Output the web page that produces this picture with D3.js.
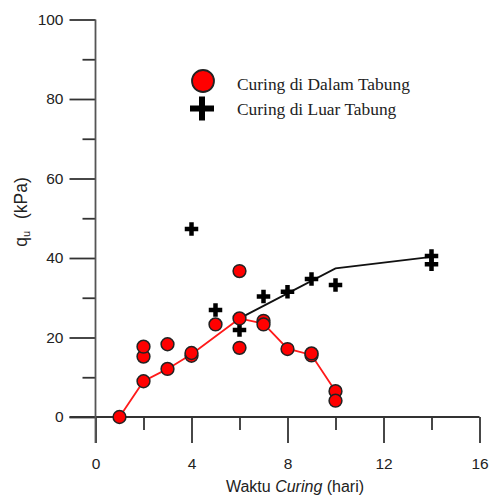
<!DOCTYPE html>
<html><head><meta charset="utf-8">
<script src="https://cdn.jsdelivr.net/npm/d3@7"></script>
<style>body{margin:0;background:#fff}svg{display:block}</style>
</head><body>
<script>
// Data
const dalamX = [1, 2, 2, 2, 3, 3, 4, 4, 5, 6, 6, 6, 7, 7, 8, 9, 9, 10, 10];
const dalamY = [0, 9, 15.2, 17.7, 12.1, 18.3, 15.4, 16.1, 23.3, 36.7, 24.8, 17.4, 24.2, 23.3, 17.1, 15.5, 16.0, 6.5, 4.1];
const luarX = [4, 5, 6, 7, 8, 9, 10, 14, 14];
const luarY = [47.3, 26.9, 21.9, 30.3, 31.5, 34.7, 33.2, 40.5, 38.4];
const dalamLineX = [1, 2, 3, 4, 6, 7, 8, 9, 10];
const dalamLineY = [0, 9, 12.1, 15.8, 24.8, 23.5, 17.2, 15.6, 6.5];
const luarLineX = [6, 10, 14];
const luarLineY = [24.8, 37.4, 40.3];
const xMajorTicks = [0, 4, 8, 12, 16];
const xMinorTicks = [2, 6, 10, 14];
const yMajorTicks = [0, 20, 40, 60, 80, 100];
const yMinorTicks = [10, 30, 50, 70, 90];
const legendLabels = ["Curing di Dalam Tabung", "Curing di Luar Tabung"];

const W = 494, H = 497;
const svg = d3.select("body").append("svg").attr("width", W).attr("height", H);
const x = d3.scaleLinear().domain([0, 16]).range([95.5, 479.5]);
const y = d3.scaleLinear().domain([0, 100]).range([417, 19.5]);
const txt = "#222";
const sans = "'Liberation Sans', Arial, sans-serif";
const serif = "'Liberation Serif', 'Times New Roman', serif";

// Axes
const axisCol = "#333";
const yAxMaj = d3.axisLeft(y).tickValues(yMajorTicks).tickSize(26).tickPadding(6).tickFormat(d3.format("d"));
const gy = svg.append("g").attr("transform", `translate(${x(0)},0)`).call(yAxMaj);
gy.select(".domain").remove();
gy.selectAll(".tick line").attr("stroke", axisCol).attr("stroke-width", 1.8);
gy.selectAll(".tick text").attr("font-family", sans).attr("font-size", 15.5).attr("fill", txt);
const yAxMin = d3.axisLeft(y).tickValues(yMinorTicks).tickSize(13).tickFormat("");
const gym = svg.append("g").attr("transform", `translate(${x(0)},0)`).call(yAxMin);
gym.select(".domain").remove();
gym.selectAll(".tick line").attr("stroke", axisCol).attr("stroke-width", 1.8);

const xAxMaj = d3.axisBottom(x).tickValues(xMajorTicks).tickSize(26).tickPadding(15).tickFormat(d3.format("d"));
const gx = svg.append("g").attr("transform", `translate(0,${y(0)})`).call(xAxMaj);
gx.select(".domain").remove();
gx.selectAll(".tick line").attr("stroke", axisCol).attr("stroke-width", 1.8);
gx.selectAll(".tick text").attr("font-family", sans).attr("font-size", 15.5).attr("fill", txt);
const xAxMin = d3.axisBottom(x).tickValues(xMinorTicks).tickSize(13).tickFormat("");
const gxm = svg.append("g").attr("transform", `translate(0,${y(0)})`).call(xAxMin);
gxm.select(".domain").remove();
gxm.selectAll(".tick line").attr("stroke", axisCol).attr("stroke-width", 1.8);

svg.append("line").attr("x1", x(0) - 26).attr("x2", x(16)).attr("y1", y(0)).attr("y2", y(0))
  .attr("stroke", axisCol).attr("stroke-width", 1.8);
svg.append("line").attr("x1", x(0)).attr("x2", x(0)).attr("y1", y(100)).attr("y2", y(0) + 26)
  .attr("stroke", "#555").attr("stroke-width", 1.8);

// Axis titles
const xt = svg.append("text").attr("x", 295).attr("y", 492).attr("text-anchor", "middle")
  .attr("font-family", sans).attr("font-size", 16).attr("fill", txt);
xt.append("tspan").text("Waktu ");
xt.append("tspan").attr("font-style", "italic").text("Curing");
xt.append("tspan").text(" (hari)");

const yt = svg.append("text").attr("transform", "translate(27,212) rotate(-90)").attr("text-anchor", "middle")
  .attr("font-family", sans).attr("font-size", 17.5).attr("fill", txt);
yt.append("tspan").text("q");
yt.append("tspan").attr("font-size", 11).attr("dy", 3).text("u");
yt.append("tspan").attr("dy", -3).attr("dx", 12).text("(kPa)");

// Lines
const line = d3.line().x(d => x(d[0])).y(d => y(d[1]));
svg.append("path").datum(luarLineX.map((v, i) => [v, luarLineY[i]]))
  .attr("d", line).attr("fill", "none").attr("stroke", "#111").attr("stroke-width", 1.8);
svg.append("path").datum(dalamLineX.map((v, i) => [v, dalamLineY[i]]))
  .attr("d", line).attr("fill", "none").attr("stroke", "#ff1a1a").attr("stroke-width", 1.8);

function plusPath(cx, cy, s, t) {
  const h = s / 2, w = t / 2;
  return `M${cx - w},${cy - h}H${cx + w}V${cy - w}H${cx + h}V${cy + w}H${cx + w}V${cy + h}H${cx - w}V${cy + w}H${cx - h}V${cy - w}H${cx - w}Z`;
}

svg.append("g").selectAll("path").data(luarX.map((v, i) => [v, luarY[i]])).join("path")
  .attr("d", d => plusPath(x(d[0]), y(d[1]), 13.5, 4.5)).attr("fill", "#000");

svg.append("g").selectAll("circle").data(dalamX.map((v, i) => [v, dalamY[i]])).join("circle")
  .attr("cx", d => x(d[0])).attr("cy", d => y(d[1])).attr("r", 6.4)
  .attr("fill", "#ff0000").attr("stroke", "#222").attr("stroke-width", 1.5);

// Legend
svg.append("circle").attr("cx", 203).attr("cy", 81).attr("r", 11)
  .attr("fill", "#ff0000").attr("stroke", "#222").attr("stroke-width", 1.8);
svg.append("path").attr("d", plusPath(202, 108.5, 24, 6)).attr("fill", "#000");
svg.append("text").attr("x", 237).attr("y", 90).attr("font-family", serif).attr("font-size", 17.4)
  .attr("fill", txt).text(legendLabels[0]);
svg.append("text").attr("x", 237).attr("y", 115).attr("font-family", serif).attr("font-size", 17.4)
  .attr("fill", txt).text(legendLabels[1]);
</script>
</body></html>
